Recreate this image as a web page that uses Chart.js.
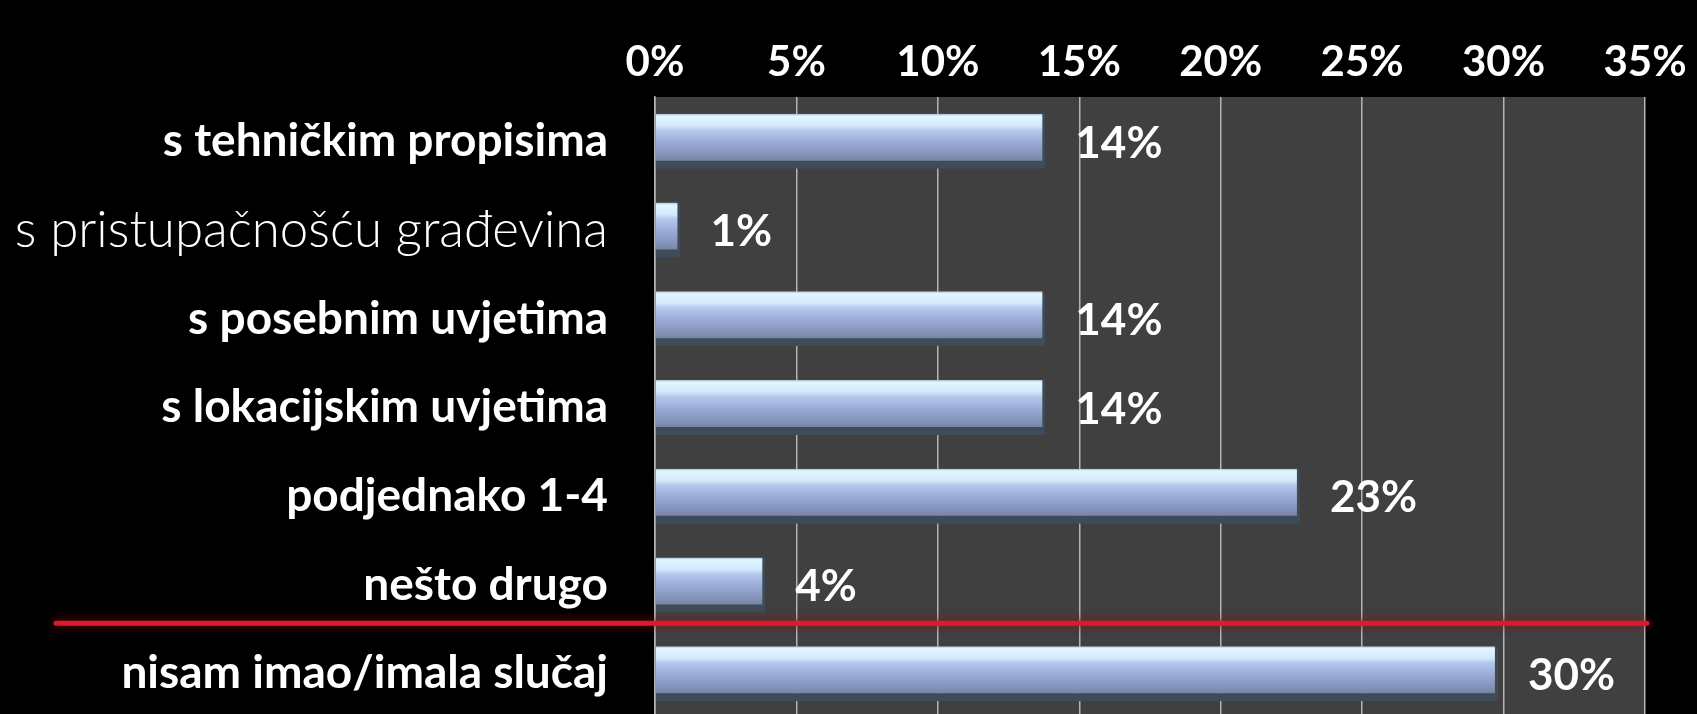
<!DOCTYPE html>
<html>
<head>
<meta charset="utf-8">
<script src="https://cdn.jsdelivr.net/npm/chart.js@4/dist/chart.umd.min.js"></script>
<style>
  html, body { margin: 0; padding: 0; background: #000; overflow: hidden; }
  canvas { display: block; }
</style>
</head>
<body>
<canvas id="grafico" width="1697" height="718"></canvas>
<script>
// --- dados ---
const categorias = [
    's tehničkim propisima',
    's pristupačnošću građevina',
    's posebnim uvjetima',
    's lokacijskim uvjetima',
    'podjednako 1-4',
    'nešto drugo',
    'nisam imao/imala slučaj'
];
const valores = [13.8, 0.9, 13.8, 13.8, 22.8, 3.9, 29.8];
const rotulosValores = ['14%', '1%', '14%', '14%', '23%', '4%', '30%'];
const ticksX = [0, 5, 10, 15, 20, 25, 30, 35];
const indiceSeparador = 5; // linha vermelha depois de "nešto drugo"

const FONTE = 'Lato, "Open Sans", sans-serif';
const LARGURA_BARRA = 0.62;

// gradiente vertical por barra (efeito "vidro" azulado)
function corBarra(ctx) {
    const chart = ctx.chart;
    if (!chart.chartArea || !chart.scales.y) return '#a3b7dc';
    const y = chart.scales.y.getPixelForValue(ctx.dataIndex);
    const h = chart.scales.y.height / categorias.length * LARGURA_BARRA;
    const g = chart.ctx.createLinearGradient(0, y - h / 2, 0, y + h / 2 - 8);
    g.addColorStop(0, '#a9bdd2');
    g.addColorStop(0.05, '#e2f6ff');
    g.addColorStop(0.25, '#d2eafc');
    g.addColorStop(0.36, '#b4c7ec');
    g.addColorStop(0.6, '#9cacd7');
    g.addColorStop(0.85, '#8594bc');
    g.addColorStop(1, '#7886a2');
    return g;
}

// fundo cinza da área do gráfico
const fundoArea = {
    id: 'fundoArea',
    beforeDraw(chart) {
        const { ctx, chartArea: a } = chart;
        ctx.save();
        ctx.fillStyle = '#404040';
        ctx.fillRect(a.left, a.top, a.right - a.left, a.bottom - a.top);
        ctx.restore();
    }
};

// rótulos de valor à direita das barras + linha vermelha
const extras = {
    id: 'extras',
    afterDatasetsDraw(chart) {
        const ctx = chart.ctx;
        const meta = chart.getDatasetMeta(0);
        ctx.save();
        ctx.fillStyle = '#ffffff';
        ctx.font = 'bold 44px ' + FONTE;
        ctx.textAlign = 'left';
        ctx.textBaseline = 'middle';
        meta.data.forEach((bar, i) => {
            ctx.fillText(rotulosValores[i], bar.x + 30, bar.y + 2);
        });

        // linha separadora
        const sy = chart.scales.y;
        const yl = (sy.getPixelForValue(indiceSeparador) + sy.getPixelForValue(indiceSeparador + 1)) / 2 - 6;
        ctx.strokeStyle = '#dc1a2c';
        ctx.lineWidth = 5;
        ctx.lineCap = 'round';
        ctx.shadowColor = 'rgba(150,10,20,0.9)';
        ctx.shadowBlur = 10;
        ctx.beginPath();
        ctx.moveTo(56, yl);
        ctx.lineTo(chart.chartArea.right + 2, yl);
        ctx.stroke();
        ctx.restore();
    }
};

const meuGrafico = new Chart(document.getElementById('grafico'), {
    type: 'bar',
    data: {
        labels: categorias,
        datasets: [{
            data: valores,
            backgroundColor: corBarra,
            borderColor: '#3e4b58',
            borderWidth: { bottom: 8, top: 0, left: 0, right: 3 },
            borderSkipped: false,
            barPercentage: LARGURA_BARRA,
            categoryPercentage: 1.0
        }]
    },
    options: {
        indexAxis: 'y',
        responsive: false,
        animation: false,
        layout: { padding: { top: 0, right: 52, bottom: 0, left: 0 } },
        plugins: {
            legend: { display: false },
            tooltip: { enabled: false }
        },
        scales: {
            x: {
                position: 'top',
                min: 0,
                max: 35,
                afterBuildTicks: (scale) => { scale.ticks = ticksX.map(v => ({ value: v })); },
                afterFit: (scale) => { scale.height = 97; },
                grid: { color: '#b4b4b4', lineWidth: 1.5, drawTicks: false },
                border: { display: false },
                ticks: {
                    color: '#ffffff',
                    padding: 9,
                    font: { family: FONTE, weight: 'bold', size: 42 },
                    callback: (v) => v + '%'
                }
            },
            y: {
                afterFit: (scale) => {
                    scale.width = 655;
                    // sem folga extra em cima/baixo: a área vai até o fim da imagem
                    scale.paddingTop = 0;
                    scale.paddingBottom = 0;
                },
                // marcas invisíveis só para afastar os rótulos do eixo
                grid: { drawOnChartArea: false, drawTicks: true, tickLength: 47, color: 'rgba(0,0,0,0)' },
                border: { display: true, color: '#b4b4b4', width: 1.5 },
                ticks: {
                    color: '#ffffff',
                    padding: 0,
                    font: (c) => c.index === 1
                        ? { family: FONTE, weight: 300, size: 51 }
                        : { family: FONTE, weight: 'bold', size: 46 }
                }
            }
        }
    },
    plugins: [fundoArea, extras]
});
</script>
</body>
</html>
